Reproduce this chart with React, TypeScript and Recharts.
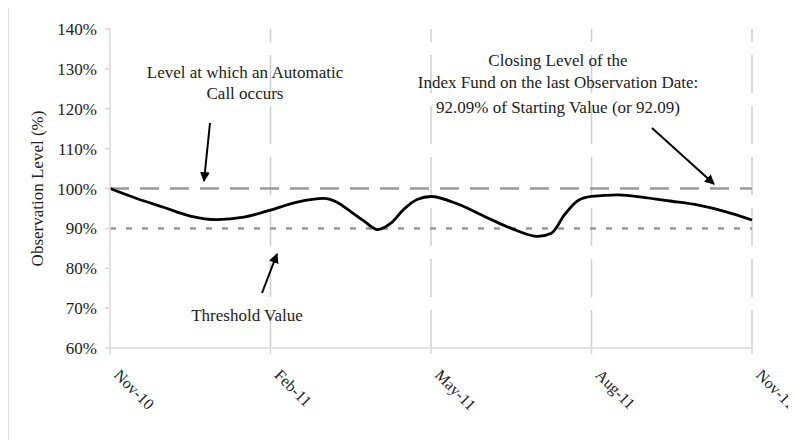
import React from 'react';
import { LineChart, Line, XAxis, YAxis, ReferenceLine } from 'recharts';

const months = [0, 0.5, 1, 1.5, 2, 2.5, 3, 3.5, 4, 4.25, 4.5, 4.75, 5, 5.25, 5.5, 5.75, 6, 6.5, 7, 7.5, 8, 8.25, 8.5, 8.75, 9, 9.5, 10, 10.5, 11, 11.5, 12];
const levels = [100, 97.5, 95.3, 93.1, 92.2, 92.8, 94.6, 96.6, 97.5, 96.5, 94.2, 91.8, 89.7, 91.3, 94.9, 97.3, 98.0, 96.1, 93.0, 90.0, 88.0, 88.8, 93.5, 97.0, 98.0, 98.4, 97.7, 96.8, 95.8, 94.2, 92.09];

const tickMonths = [0, 3, 6, 9, 12];
const tickLabels = ['Nov-10', 'Feb-11', 'May-11', 'Aug-11', 'Nov-11'];
const gridMonths = [3, 6, 9, 12];
const yTicks = [60, 70, 80, 90, 100, 110, 120, 130, 140];

const callLevel = 100;
const thresholdLevel = 90;

const data = months.map((m, i) => ({ m, v: levels[i] }));

const FONT = '"Liberation Serif", "Times New Roman", serif';
const TEXT = '#222';

const XTick = (props: any) => {
  const { x, y, payload } = props;
  const idx = tickMonths.indexOf(payload.value);
  const label = idx >= 0 ? tickLabels[idx] : '';
  const ox = x + 3;
  const oy = y + 22;
  return (
    <text x={ox} y={oy} transform={`rotate(45, ${ox}, ${oy})`} textAnchor="start" fontSize={16} fontFamily={FONT} fill={TEXT}>
      {label}
    </text>
  );
};

export default function App() {
  return (
    <div style={{ position: 'relative', marginTop: -1, width: 788, height: 433, borderTop: '1px solid #ddd', borderLeft: '1px solid #ddd', boxSizing: 'border-box', fontFamily: FONT }}>
      <LineChart width={787} height={432} data={data} margin={{ top: 21, right: 44, left: 0, bottom: 32 }}>
        <XAxis
          dataKey="m"
          type="number"
          domain={[0, 12]}
          ticks={tickMonths}
          tick={<XTick />}
          tickSize={6}
          tickMargin={0}
          height={60}
          axisLine={{ stroke: '#d9d9d9', strokeWidth: 1.5 }}
          tickLine={{ stroke: '#d9d9d9', strokeWidth: 1.5 }}
          interval={0}
        />
        <YAxis
          type="number"
          domain={[60, 140]}
          ticks={yTicks}
          tickFormatter={(v: number) => `${v}%`}
          width={101}
          tickSize={5}
          tickMargin={8}
          tick={{ fontSize: 17, fontFamily: FONT, fill: TEXT }}
          axisLine={{ stroke: '#d9d9d9', strokeWidth: 1.5 }}
          tickLine={{ stroke: '#d9d9d9', strokeWidth: 1.5 }}
          interval={0}
          label={{ value: 'Observation Level (%)', angle: -90, position: 'insideLeft', offset: 28, style: { textAnchor: 'middle', fontSize: 17, fontFamily: FONT, fill: TEXT } }}
        />
        {gridMonths.map((gm) => (
          <ReferenceLine key={gm} x={gm} stroke="#cfcfcf" strokeWidth={1.5} strokeDasharray="38 13" />
        ))}
        <ReferenceLine y={callLevel} stroke="#999" strokeWidth={2.5} strokeDasharray="19 11" />
        <ReferenceLine y={thresholdLevel} stroke="#999" strokeWidth={2.5} strokeDasharray="6 10" />
        <Line type="monotone" dataKey="v" stroke="#000" strokeWidth={2.8} dot={false} isAnimationActive={false} />
      </LineChart>
      <svg width={787} height={432} style={{ position: 'absolute', left: 0, top: 0, pointerEvents: 'none' }}>
        <defs>
          <marker id="ah" viewBox="0 0 10 10" refX="9" refY="5" markerWidth="5" markerHeight="5" orient="auto" markerUnits="strokeWidth">
            <path d="M0,0 L10,5 L0,10 z" fill="#000" />
          </marker>
        </defs>
        <g fontFamily={FONT} fontSize={17} fill={TEXT} textAnchor="middle" dominantBaseline="central">
          <text x={236} y={64}>Level at which an Automatic</text>
          <text x={236} y={85}>Call occurs</text>
          <text x={549} y={52}>Closing Level of the</text>
          <text x={549} y={74}>Index Fund on the last Observation Date:</text>
          <text x={549} y={99}>92.09% of Starting Value (or 92.09)</text>
          <text x={238} y={307}>Threshold Value</text>
        </g>
        <line x1={201} y1={115} x2={195} y2={173} stroke="#000" strokeWidth={2} markerEnd="url(#ah)" />
        <line x1={643} y1={120} x2={705} y2={176} stroke="#000" strokeWidth={2} markerEnd="url(#ah)" />
        <line x1={253} y1={285} x2={268} y2={246} stroke="#000" strokeWidth={2} markerEnd="url(#ah)" />
      </svg>
    </div>
  );
}
